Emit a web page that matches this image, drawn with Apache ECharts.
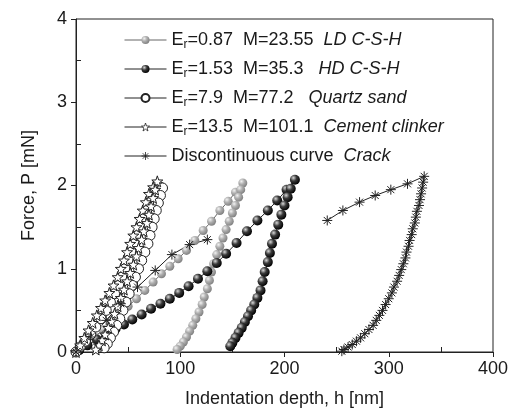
<!DOCTYPE html>
<html>
<head>
<meta charset="utf-8">
<script src="https://cdn.jsdelivr.net/npm/echarts@6/dist/echarts.min.js"></script>
<style>
  html, body { margin: 0; padding: 0; background: #fff; }
  #chart { width: 515px; height: 413px; }
</style>
</head>
<body>
<div id="chart"></div>
<script>
// axis ticks
var xTicks = [0, 100, 200, 300, 400];
var yTicks = [0, 1, 2, 3, 4];

// LD C-S-H (grey spheres): loading then unloading
var ldLoad = [[2,0.02],[10,0.1],[18,0.18],[26,0.27],[34,0.36],[42,0.45],[50,0.55],[58,0.64],[66,0.74],[74,0.84],[82,0.94],[90,1.03],[98,1.12],[106,1.22],[114,1.34],[122,1.46],[130,1.57],[138,1.7],[146,1.81],[153,1.92],[160,2.03]];
var ldUnload = [[158,1.95],[156,1.86],[153,1.76],[150,1.67],[147,1.57],[144,1.47],[141,1.37],[138,1.27],[135,1.17],[132,1.06],[130,0.96],[128,0.86],[126,0.76],[123,0.66],[121,0.57],[118,0.48],[115,0.4],[112,0.32],[109,0.25],[106,0.18],[103,0.12],[100,0.07],[97,0.03]];

// HD C-S-H (black spheres)
var hdLoad = [[3,0.02],[11,0.08],[20,0.15],[29,0.21],[38,0.28],[46,0.33],[54,0.39],[63,0.45],[72,0.52],[81,0.58],[90,0.64],[99,0.71],[108,0.79],[117,0.88],[126,0.97],[135,1.07],[144,1.18],[154,1.31],[164,1.45],[174,1.58],[184,1.7],[193,1.82],[202,1.95],[210,2.07]];
var hdUnload = [[206,1.96],[203,1.86],[200,1.76],[197,1.65],[194,1.53],[191,1.41],[188,1.3],[186,1.19],[184,1.08],[181,0.96],[179,0.85],[177,0.74],[174,0.65],[171,0.57],[168,0.5],[165,0.43],[162,0.36],[159,0.29],[156,0.23],[153,0.17],[150,0.11],[148,0.07]];

// Quartz sand (open circles)
var qsLoad = [[0,0],[4,0.06],[9,0.13],[14,0.21],[19,0.3],[24,0.4],[29,0.5],[33,0.6],[37,0.7],[41,0.8],[44,0.9],[47,1.0],[50,1.1],[53,1.2],[56,1.3],[59,1.4],[62,1.5],[65,1.6],[68,1.7],[72,1.8],[76,1.9],[81,1.98]];
var qsUnload = [[83,1.97],[81,1.88],[79,1.79],[77,1.7],[75,1.6],[73,1.5],[71,1.4],[69,1.3],[66,1.2],[63,1.1],[60,1.0],[57,0.9],[54,0.8],[51,0.7],[48,0.6],[45,0.5],[42,0.4],[39,0.32],[36,0.24],[33,0.17],[30,0.1],[27,0.05]];

// Cement clinker (open stars)
var ccLoad = [[0,0],[4,0.08],[8,0.17],[12,0.26],[16,0.35],[20,0.44],[24,0.53],[28,0.62],[32,0.71],[36,0.8],[40,0.9],[43,1.0],[46,1.1],[49,1.2],[52,1.3],[55,1.4],[58,1.5],[61,1.6],[64,1.7],[67,1.8],[70,1.9],[74,1.98],[78,2.05]];
var ccUnload = [[76,1.95],[74,1.85],[72,1.75],[70,1.65],[68,1.55],[65,1.45],[63,1.35],[60,1.25],[58,1.15],[55,1.05],[52,0.95],[49,0.85],[46,0.75],[43,0.65],[40,0.55],[37,0.46],[34,0.37],[31,0.29],[28,0.21],[25,0.14],[22,0.08],[19,0.03]];

// Discontinuous curve (crack): before jump, after jump, unloading
var crackBefore = [[0,0],[14,0.18],[29,0.38],[43,0.58],[59,0.78],[76,0.98],[92,1.17],[109,1.29],[126,1.35]];
var crackAfter = [[241,1.58],[256,1.7],[272,1.8],[287,1.88],[302,1.95],[318,2.02],[334,2.11]];
var crackUnload = [[333,2.04],[332,1.97],[331,1.9],[330,1.83],[329,1.76],[327,1.69],[326,1.62],[325,1.55],[323,1.48],[322,1.41],[320,1.34],[319,1.27],[317,1.2],[316,1.13],[314,1.06],[312,0.99],[310,0.92],[308,0.85],[305,0.78],[303,0.71],[300,0.64],[297,0.57],[294,0.5],[291,0.44],[288,0.38],[285,0.32],[281,0.27],[277,0.22],[273,0.17],[269,0.13],[265,0.09],[261,0.06],[257,0.03],[255,0.01]];

var names = ['ld', 'hd', 'qs', 'cc', 'crack'];
var legendText = {
  ld: 'E{sub|r}=0.87  M=23.55  {it|LD C-S-H}',
  hd: 'E{sub|r}=1.53  M=35.3   {it|HD C-S-H}',
  qs: 'E{sub|r}=7.9  M=77.2   {it|Quartz sand}',
  cc: 'E{sub|r}=13.5  M=101.1  {it|Cement clinker}',
  crack: 'Discontinuous curve  {it|Crack}'
};

var FONT = '"Liberation Sans", Arial, sans-serif';
var FS = 18;
var STAR = 'path://M0,-10 L2.35,-3.24 L9.51,-3.09 L3.8,1.24 L5.88,8.09 L0,4 L-5.88,8.09 L-3.8,1.24 L-9.51,-3.09 L-2.35,-3.24 Z';
var ASTER = 'path://M0,-10L0,10M-10,0L10,0M-7,-7L7,7M-7,7L7,-7';

function ball(light, mid, dark) {
  return {
    type: 'radial', x: 0.35, y: 0.32, r: 0.7,
    colorStops: [
      { offset: 0, color: light },
      { offset: 0.45, color: mid },
      { offset: 1, color: dark }
    ]
  };
}

var crackData = crackBefore.concat([[180, '-']], crackAfter, crackUnload);

var legendData = names.map(function (n) {
  if (n === 'cc') {
    return { name: n, itemStyle: { color: '#fff', borderColor: '#222', borderWidth: 0.8 } };
  }
  if (n === 'crack') {
    return { name: n, itemStyle: { color: 'transparent', borderColor: '#222', borderWidth: 0.8 } };
  }
  return { name: n };
});

var chart = echarts.init(document.getElementById('chart'), null, { renderer: 'canvas' });
chart.setOption({
  animation: false,
  backgroundColor: '#fff',
  textStyle: { fontFamily: FONT },
  grid: {
    left: 76, right: 22, top: 19, bottom: 60,
    show: true, borderColor: '#222', borderWidth: 1, backgroundColor: 'transparent'
  },
  legend: {
    orient: 'vertical',
    left: 119, top: 25,
    itemWidth: 42, itemHeight: 10, itemGap: 8,
    data: legendData,
    formatter: function (n) { return legendText[n]; },
    lineStyle: { width: 1 },
    textStyle: {
      fontFamily: FONT, fontSize: FS, color: '#1a1a1a', lineHeight: 20,
      rich: {
        sub: { fontSize: 12, color: '#1a1a1a', padding: [10, 0, 0, 0], fontFamily: FONT },
        it: { fontSize: FS, color: '#1a1a1a', fontStyle: 'italic', fontFamily: FONT }
      }
    }
  },
  xAxis: {
    type: 'value', min: xTicks[0], max: xTicks[xTicks.length - 1], interval: 100,
    name: 'Indentation depth, h [nm]', nameLocation: 'middle', nameGap: 38,
    nameTextStyle: { fontSize: FS, color: '#1a1a1a', fontFamily: FONT },
    axisLine: { lineStyle: { color: '#222', width: 1 } },
    axisTick: { inside: false, length: 5, lineStyle: { color: '#222' } },
    minorTick: { show: true, splitNumber: 2, length: -5, lineStyle: { color: '#222' } },
    axisLabel: { fontSize: FS, color: '#1a1a1a', margin: 8, fontFamily: FONT },
    splitLine: { show: false }
  },
  yAxis: {
    type: 'value', min: yTicks[0], max: yTicks[yTicks.length - 1], interval: 1,
    name: 'Force, P [mN]', nameLocation: 'middle', nameGap: 38,
    nameTextStyle: { fontSize: FS, color: '#1a1a1a', fontFamily: FONT },
    axisLine: { show: true, lineStyle: { color: '#222', width: 1 } },
    axisTick: { show: true, inside: false, length: 5, lineStyle: { color: '#222' } },
    minorTick: { show: true, splitNumber: 2, length: -5, lineStyle: { color: '#222' } },
    axisLabel: { fontSize: FS, color: '#1a1a1a', margin: 9, fontFamily: FONT },
    splitLine: { show: false }
  },
  series: [
    {
      name: 'ld', type: 'line', data: ldLoad.concat(ldUnload),
      symbol: 'circle', symbolSize: 9, showAllSymbol: true,
      lineStyle: { color: '#666', width: 1 },
      itemStyle: { color: ball('#f2f2f2', '#b0b0b0', '#808080'), borderWidth: 0 }
    },
    {
      name: 'hd', type: 'line', data: hdLoad.concat(hdUnload),
      symbol: 'circle', symbolSize: 10, showAllSymbol: true,
      lineStyle: { color: '#222', width: 1 },
      itemStyle: { color: ball('#d8d8d8', '#3a3a3a', '#000'), borderWidth: 0 }
    },
    {
      name: 'qs', type: 'line', data: qsLoad.concat(qsUnload),
      symbol: 'circle', symbolSize: 10, showAllSymbol: true,
      lineStyle: { color: '#222', width: 1 },
      itemStyle: { color: '#fff', borderColor: '#222', borderWidth: 1 }
    },
    {
      name: 'cc', type: 'line', data: ccLoad.concat(ccUnload),
      symbol: STAR, symbolSize: 11, showAllSymbol: true,
      lineStyle: { color: '#222', width: 1 },
      itemStyle: { color: '#fff', borderColor: '#222', borderWidth: 1 }
    },
    {
      name: 'crack', type: 'line', data: crackData, connectNulls: false,
      symbol: ASTER, symbolSize: 10, showAllSymbol: true,
      lineStyle: { color: '#222', width: 1 },
      itemStyle: { color: '#222', borderColor: '#222', borderWidth: 1 }
    }
  ]
});
</script>
</body>
</html>
